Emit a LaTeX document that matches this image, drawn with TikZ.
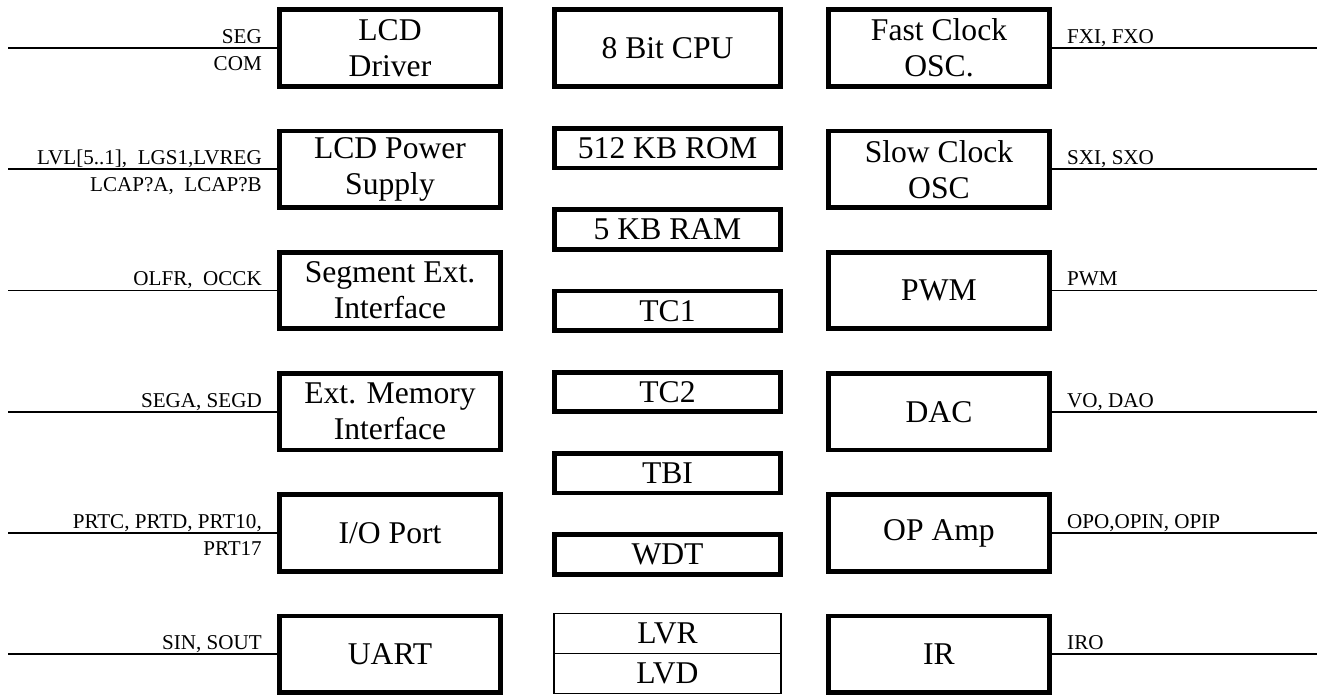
\documentclass[tikz,border=0pt]{standalone}
\usepackage{fontspec}
\setmainfont{Liberation Serif}
\usetikzlibrary{positioning}

\begin{document}
\begin{tikzpicture}[
  node distance=8mm,
  blk/.style={draw, line width=2.7pt, minimum width=4.42cm,
              minimum height=1.53cm, align=center, inner sep=1pt,
              font=\fontsize{18}{20.5}\selectfont},
  cpublk/.style={blk, minimum width=4.52cm, minimum height=1.55cm},
  memblk/.style={blk, minimum width=4.52cm, minimum height=0.79cm},
  lvblk/.style={draw, line width=0.9pt, minimum width=4.55cm,
                minimum height=0.8cm, inner sep=1pt, outer sep=0pt,
                font=\fontsize{18}{20.5}\selectfont},
  wire/.style={line width=1.1pt},
  lpin/.style={anchor=base east, inner sep=0pt, xshift=-3mm, yshift=0.9mm,
               font=\fontsize{12}{14}\selectfont},
  lpinb/.style={anchor=base east, inner sep=0pt, xshift=-3mm, yshift=-4.5mm,
                font=\fontsize{12}{14}\selectfont},
  rpin/.style={anchor=base west, inner sep=0pt, xshift=3mm, yshift=0.9mm,
               font=\fontsize{12}{14}\selectfont}
]
\useasboundingbox (0,0) rectangle (26.68,-13.94);
\coordinate (lend) at (0.16,0);
\coordinate (rend) at (26.34,0);

% left column
\node[blk] (lcd) at (7.8,-0.96) {LCD\\Driver};
\node[blk, below=of lcd] (lcdps) {LCD Power\\Supply};
\node[blk, below=of lcdps] (segif) {Segment Ext.\\Interface};
\node[blk, below=of segif] (memif) {Ext. Memory\\Interface};
\node[blk, below=of memif] (io) {I/O Port};
\node[blk, below=of io] (uart) {UART};

% center column
\begin{scope}[node distance=7.4mm]
\node[cpublk] (cpu) at (13.35,-0.96) {8 Bit CPU};
\node[memblk, below=of cpu] (rom) {512 KB ROM};
\node[memblk, below=of rom] (ram) {5 KB RAM};
\node[memblk, below=of ram] (tca) {TC1};
\node[memblk, below=of tca] (tcb) {TC2};
\node[memblk, below=of tcb] (tbi) {TBI};
\node[memblk, below=of tbi] (wdt) {WDT};
\node[lvblk, below=of wdt] (lvr) {LVR};
\node[lvblk, below=0pt of lvr] (lvd) {LVD};
\end{scope}

% right column
\node[blk] (fosc) at (18.78,-0.96) {Fast Clock\\OSC.};
\node[blk, below=of fosc] (sosc) {Slow Clock\\OSC};
\node[blk, below=of sosc] (pwm) {PWM};
\node[blk, below=of pwm] (dac) {DAC};
\node[blk, below=of dac] (opamp) {OP Amp};
\node[blk, below=of opamp] (ir) {IR};

% pins
\draw[wire] (lcd.west) -- (lcd.west -| lend);
\draw[wire] (lcdps.west) -- (lcdps.west -| lend);
\draw[wire] (segif.west) -- (segif.west -| lend);
\draw[wire] (memif.west) -- (memif.west -| lend);
\draw[wire] (io.west) -- (io.west -| lend);
\draw[wire] (uart.west) -- (uart.west -| lend);
\draw[wire] (fosc.east) -- (fosc.east -| rend);
\draw[wire] (sosc.east) -- (sosc.east -| rend);
\draw[wire] (pwm.east) -- (pwm.east -| rend);
\draw[wire] (dac.east) -- (dac.east -| rend);
\draw[wire] (opamp.east) -- (opamp.east -| rend);
\draw[wire] (ir.east) -- (ir.east -| rend);

\node[lpin] (lcdpa) at (lcd.west) {SEG};
\node[lpinb] (lcdpb) at (lcd.west) {COM};
\node[lpin] (lcdpspa) at (lcdps.west) {LVL[5..1], \ LGS1,LVREG};
\node[lpinb] (lcdpspb) at (lcdps.west) {LCAP?A, \ LCAP?B};
\node[lpin] (segifp) at (segif.west) {OLFR, \ OCCK};
\node[lpin] (memifp) at (memif.west) {SEGA, SEGD};
\node[lpin] (iopa) at (io.west) {PRTC, PRTD, PRT10,};
\node[lpinb] (iopb) at (io.west) {PRT17};
\node[lpin] (uartp) at (uart.west) {SIN, SOUT};
\node[rpin] (foscp) at (fosc.east) {FXI, FXO};
\node[rpin] (soscp) at (sosc.east) {SXI, SXO};
\node[rpin] (pwmp) at (pwm.east) {PWM};
\node[rpin] (dacp) at (dac.east) {VO, DAO};
\node[rpin] (opampp) at (opamp.east) {OPO,OPIN, OPIP};
\node[rpin] (irp) at (ir.east) {IRO};
\end{tikzpicture}
\end{document}
